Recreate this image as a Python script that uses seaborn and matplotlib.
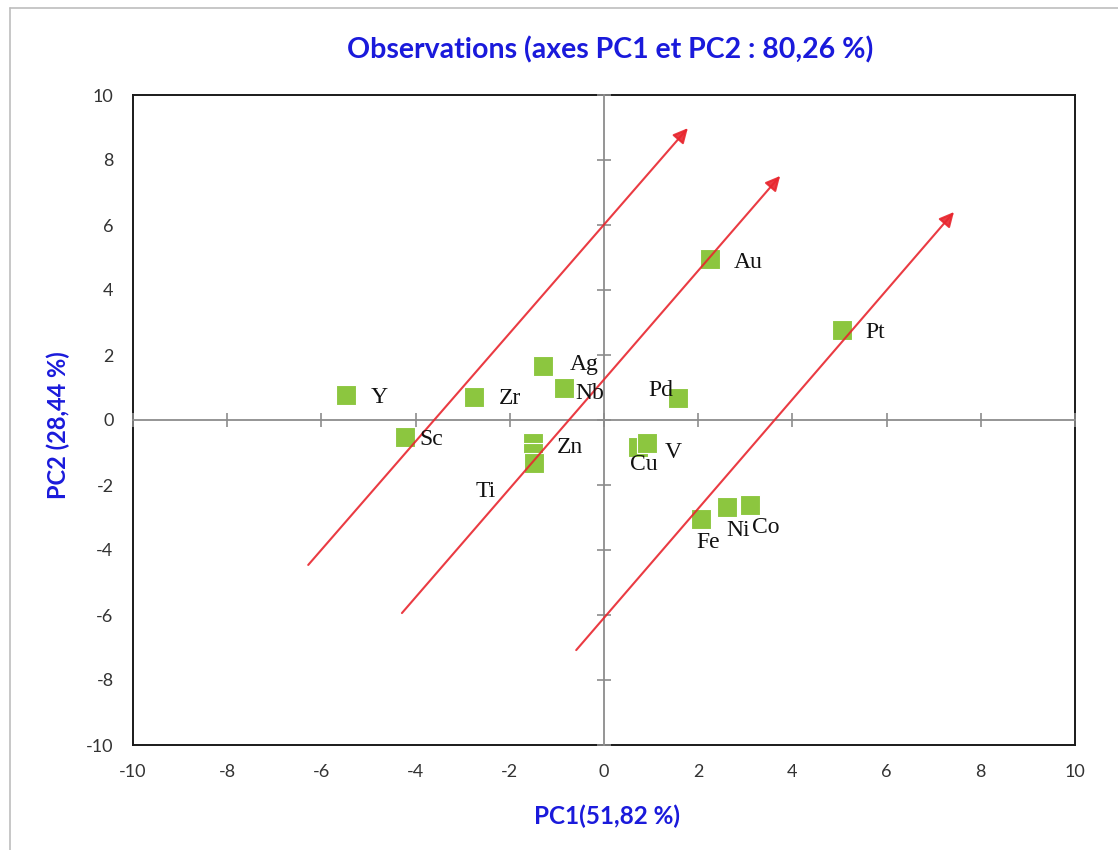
import matplotlib
matplotlib.use("Agg")
import matplotlib.pyplot as plt
import seaborn as sns
import pandas as pd

# Observation scores on the first two principal components
elements = ["Y", "Sc", "Zr", "Ag", "Nb", "Zn", "", "Ti", "Pd", "Au", "Pt",
            "Cu", "V", "Fe", "Ni", "Co"]
pc1 = [-5.48, -4.22, -2.76, -1.30, -0.85, -1.51, -1.51, -1.49, 1.57, 2.25, 5.05,
       0.72, 0.91, 2.06, 2.61, 3.10]
pc2 = [0.77, -0.52, 0.71, 1.66, 0.98, -0.71, -1.02, -1.32, 0.68, 4.95, 2.77,
       -0.83, -0.71, -3.05, -2.68, -2.62]

# Trend arrows (tail -> head), in PC units
arrow_x0 = [-6.28, -4.29, -0.59]
arrow_y0 = [-4.46, -5.94, -7.08]
arrow_x1 = [1.78, 3.74, 7.43]
arrow_y1 = [8.98, 7.51, 6.40]

ticks = [-10, -8, -6, -4, -2, 0, 2, 4, 6, 8, 10]

title = "Observations (axes PC1 et PC2 : 80,26 %)"
xlabel = "PC1(51,82 %)"
ylabel = "PC2 (28,44 %)"

# Label placement around each marker, in pixels (dx right, dy down)
label_offsets = {
    "Y": (25, 3), "Sc": (14, 3), "Zr": (25, 2), "Ag": (27, -2),
    "Nb": (11, 5), "Zn": (24, 4), "Ti": (-58, 29), "Pd": (-30, -7),
    "Au": (24, 3), "Pt": (24, 3), "Cu": (-8, 18), "V": (18, 9),
    "Fe": (-5, 23), "Ni": (-1, 23), "Co": (2, 22),
}

df = pd.DataFrame({"element": elements, "PC1": pc1, "PC2": pc2})

sns.set_theme(style="white")
plt.rcParams["font.family"] = ["Lato", "DejaVu Sans"]

fig = plt.figure(figsize=(11.18, 8.5), dpi=100)
pos = [133 / 1118, 1 - 745 / 850, (1075 - 133) / 1118, (745 - 95) / 850]
ax = fig.add_axes(pos)

# Light chart-area border
fig.add_artist(plt.Line2D([10 / 1118, 10 / 1118], [0, 1 - 8 / 850],
                          transform=fig.transFigure, color="#bdbdbd", lw=1.2))
fig.add_artist(plt.Line2D([10 / 1118, 1], [1 - 8 / 850, 1 - 8 / 850],
                          transform=fig.transFigure, color="#bdbdbd", lw=1.2))

ax.set_xlim(-10, 10)
ax.set_ylim(-10, 10)
ax.set_xticks(ticks)
ax.set_yticks(ticks)
ax.set_xticklabels([str(t) for t in ticks])
ax.set_yticklabels([str(t) for t in ticks])
ax.tick_params(length=0, labelsize=13, labelcolor="#333333", pad=14)
for s in ax.spines.values():
    s.set_color("#1a1a1a")
    s.set_linewidth(1.4)

# Crossing axes through the origin with tick marks
ax0 = fig.add_axes(pos, sharex=ax, sharey=ax, facecolor="none")
for side in ("top", "right"):
    ax0.spines[side].set_visible(False)
for side in ("left", "bottom"):
    ax0.spines[side].set_position(("data", 0))
    ax0.spines[side].set_color("#8c8c8c")
    ax0.spines[side].set_linewidth(1.3)
ax0.tick_params(direction="inout", length=10, width=1.2, color="#8c8c8c",
                labelbottom=False, labelleft=False, bottom=True, left=True)

sns.scatterplot(data=df, x="PC1", y="PC2", marker="s", s=210,
                color="#8cc63f", edgecolor="white", linewidth=0.8,
                ax=ax0, zorder=3, legend=False)
ax0.set_xlabel("")
ax0.set_ylabel("")

# Arrows drawn over the markers
for x0, y0, x1, y1 in zip(arrow_x0, arrow_y0, arrow_x1, arrow_y1):
    ax0.annotate("", xy=(x1, y1), xytext=(x0, y0),
                 arrowprops=dict(arrowstyle="-|>", color="#e8262e", lw=1.5,
                                 alpha=0.9, mutation_scale=22,
                                 shrinkA=0, shrinkB=0),
                 zorder=4)

for name, x, y in zip(elements, pc1, pc2):
    if not name:
        continue
    dx, dy = label_offsets.get(name, (24, 3))
    ax0.annotate(name, xy=(x, y), xytext=(dx, -dy), textcoords="offset pixels",
                 ha="left", va="center", fontsize=17, color="#111111",
                 family="Liberation Serif", zorder=5)

ax0.set_zorder(ax.get_zorder() + 1)

fig.text(610 / 1118, 1 - 50 / 850, title, ha="center", va="center",
         fontsize=20.5, fontweight="bold", color="#1a1adb")
fig.text(607 / 1118, 1 - 816 / 850, xlabel, ha="center", va="center",
         fontsize=17.5, fontweight="bold", color="#1a1adb")
fig.text(58 / 1118, 1 - 425 / 850, ylabel, ha="center", va="center",
         rotation=90, fontsize=17, fontweight="bold", color="#1a1adb")

fig.savefig("out.png", dpi=100, facecolor="white")
